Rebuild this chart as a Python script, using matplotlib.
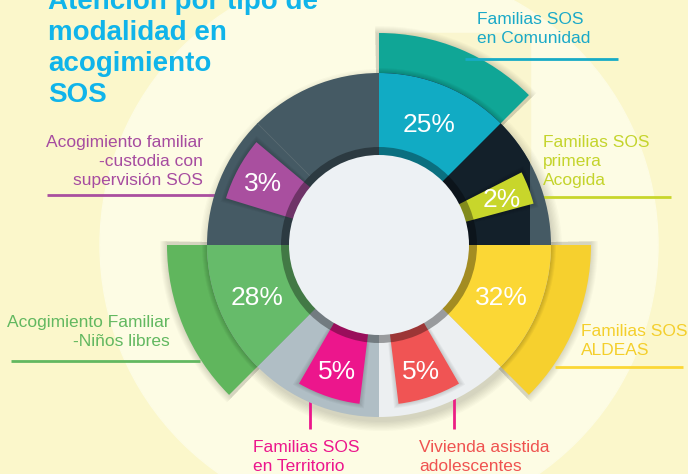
import numpy as np
import matplotlib.pyplot as plt
from matplotlib.patches import Wedge, Circle, Rectangle

plt.rcParams['font.family'] = ['Liberation Sans', 'DejaVu Sans']

categories = ["Familias SOS\nen Comunidad", "Familias SOS\nprimera\nAcogida", "Familias SOS\nALDEAS",
              "Vivienda asistida\nadolescentes", "Familias SOS\nen Territorio",
              "Acogimiento Familiar\n-Niños libres", "Acogimiento familiar\n-custodia con\nsupervisión SOS"]
values = [25, 2, 32, 5, 5, 28, 3]
seg_colors = ['#11abc4', '#c8d62b', '#fbd735', '#f05454', '#ec168c', '#66bb6a', '#a94f9f']
ext_colors = ['#10a696', None, '#f6d02e', None, None, '#60b65d', None]
text_colors = ['#1aa9c8', '#c4d42c', '#f4cf2c', '#ef5350', '#ec168c', '#62b860', '#a64ca0']
title = "Atención por tipo de\nmodalidad en\nacogimiento\nSOS"

# layout (infographic, angles are not proportional to values)
spans = [(45, 90), (15, 27), (315, 360), (277, 300), (240, 263), (180, 225), (140, 163)]
cx, cy = 379, 245
r_in, r_ring, r_small, r_ext = 90, 172, 160, 212

fig = plt.figure(figsize=(6.88, 4.74), dpi=100)
ax = fig.add_axes([0, 0, 1, 1])
ax.set_xlim(0, 688)
ax.set_ylim(474, 0)
ax.set_aspect('equal')
ax.axis('off')


def wedge(r, t1, t2, width=None, **kw):
    # angles given counter-clockwise on screen, y axis is inverted
    w = Wedge((cx, cy), r, -t2, -t1, width=width, **kw)
    ax.add_patch(w)
    return w


# background
ax.add_patch(Rectangle((0, 0), 688, 474, color='#fbf7cb', zorder=0))
ax.add_patch(Circle((cx, cy), 279, color='#fdfce4', zorder=0.5))
ax.add_patch(Rectangle((cx, 33), 530 - cx, cy - 33, color='#faf6cf', zorder=0.6))

# soft shadows
for i in range(8):
    ax.add_patch(Circle((cx + 2, cy + 5), r_ring + i * 1.3, color='k', alpha=0.018, lw=0, zorder=0.8))
    for k, (t1, t2) in enumerate(spans):
        if ext_colors[k]:
            wedge(r_ext + i * 1.0, t1 - 1, t2 + 1, width=r_ext - r_ring + 2 * i, color='k',
                  alpha=0.018, lw=0, zorder=0.8)

# outer extensions
for k, (t1, t2) in enumerate(spans):
    if ext_colors[k]:
        wedge(r_ext, t1, t2, width=r_ext - r_ring + 5, color=ext_colors[k], lw=0, zorder=1)

# ring quadrants
wedge(r_ring, 0, 90, color='#455a64', lw=0, zorder=2)
dark = wedge(r_ring, 0, 90, color='#13202a', lw=0, zorder=2.1)
clip = Rectangle((0, 0), 530, 474, transform=ax.transData)
dark.set_clip_path(clip)
wedge(r_ring, 90, 180, color='#455a64', lw=0, zorder=2)
wedge(r_ring, 180, 270, color='#b0bec5', lw=0, zorder=2)
wedge(r_ring, 270, 360, color='#eceff1', lw=0, zorder=2)
a = np.deg2rad(135)
ax.plot([cx + 98 * np.cos(a), cx + r_ring * np.cos(a)], [cy - 98 * np.sin(a), cy - r_ring * np.sin(a)],
        color='#5a6b72', lw=0.6, zorder=2.2)

# segments with shadows for the small ones
for k, (t1, t2) in enumerate(spans):
    r = r_ring if ext_colors[k] else r_small
    if not ext_colors[k]:
        for i in range(4):
            wedge(r + 1 + i, t1 - 0.5 - i * 0.4, t2 + 0.5 + i * 0.4, width=r - 95, color='k',
                  alpha=0.035, lw=0, zorder=2.5)
    else:
        for i in range(5):
            wedge(r + 1 + i, t1, t2, width=r - 95, color='k', alpha=0.035, lw=0, zorder=2.5)
    wedge(r, t1, t2, width=r - 80, color=seg_colors[k], lw=0, zorder=3)

# dark inner ring and centre disc
wedge(98, 0, 360, width=10, color='k', alpha=0.35, lw=0, zorder=4)
ax.add_patch(Circle((cx, cy), r_in, color='#edf1f4', lw=0, zorder=5))

# percentage labels
for k, (t1, t2) in enumerate(spans):
    m = np.deg2rad((t1 + t2) / 2)
    ax.text(cx + 132 * np.cos(m), cy - 132 * np.sin(m) + 2, f"{values[k]}%", color='white',
            fontsize=19, ha='center', va='center', zorder=6)

# category labels: x, first baseline, alignment
label_pos = [(477, 24, 'left'), (543, 147, 'left'), (581, 336, 'left'), (419, 452, 'left'),
             (253, 452, 'left'), (170, 327, 'right'), (203, 147, 'right')]
for k, (x, y, ha) in enumerate(label_pos):
    for j, line in enumerate(categories[k].split('\n')):
        ax.text(x, y + j * 19, line, color=text_colors[k], fontsize=12.5, ha=ha, va='baseline', zorder=6)

# leader lines
leaders = [((465, 618), (59, 59)), ((531, 671), (197, 197)), ((555, 683), (367, 367)),
           ((454, 454), (385, 429)), ((310, 310), (389, 429)), ((11, 200), (361, 361)),
           ((47, 226), (195, 195))]
line_colors = ['#17abc6', '#c8d62b', '#fbd735', '#ec1e84', '#ec168c', '#62b860', '#a94f9f']
for k, (xs, ys) in enumerate(leaders):
    ax.plot(xs, ys, color=line_colors[k], lw=2, solid_capstyle='butt', zorder=1.5)

# title
for j, line in enumerate(title.split('\n')):
    ax.text(48, 9 + j * 31, line, color='#10b4ea', fontsize=20, fontweight='bold', va='baseline', zorder=6)

fig.savefig('out.png', dpi=100)
